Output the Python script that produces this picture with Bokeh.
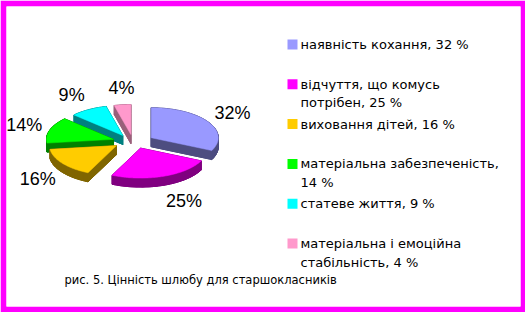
import numpy as np
from bokeh.plotting import figure
from bokeh.models import Range1d
from bokeh.core.properties import value
from bokeh.embed import file_html
from bokeh.resources import INLINE

# ---- data ----
categories = [
    "наявність кохання, 32 %",
    "відчуття, що комусь\nпотрібен, 25 %",
    "виховання дітей, 16 %",
    "матеріальна забезпеченість,\n14 %",
    "статеве життя, 9 %",
    "матеріальна і емоційна\nстабільність, 4 %",
]
shares = [32, 25, 16, 14, 9, 4]
pct_labels = ["32%", "25%", "16%", "14%", "9%", "4%"]
top_colors = ["#9999FF", "#FF00FF", "#FFCC00", "#00FF00", "#00FFFF", "#FF99CC"]
side_colors = ["#4D4D80", "#800080", "#806600", "#008000", "#008080", "#99607A"]
caption = "рис. 5. Цінність шлюбу для старшокласників"

FONT = "Liberation Sans"
LEG_FONT = "DejaVu Sans"

p = figure(width=525, height=312,
           x_range=Range1d(6, 520), y_range=Range1d(306, 6),
           x_axis_type=None, y_axis_type=None,
           output_backend="svg", toolbar_location=None,
           min_border_left=6, min_border_right=5,
           min_border_top=6, min_border_bottom=6,
           border_fill_color="#FF00FF", background_fill_color="white",
           outline_line_color=None)
p.grid.visible = False

# ---- pseudo-3D exploded pie ----
cx, cy = 133.0, 141.0
rx, ry = 67.0, 30.0
depth = 9.0
ex_r, ey_r = 21.0, 7.0

vals = np.array(shares, dtype=float)
ends = np.cumsum(vals) / vals.sum() * 360.0
starts = np.concatenate([[0.0], ends[:-1]])
mids = (starts + ends) / 2.0

slices = []
for i in range(len(vals)):
    a0, a1 = starts[i], ends[i]
    m = np.radians(mids[i])
    ox, oy = ex_r * np.sin(m), -ey_r * np.cos(m)
    ax, ay = cx + ox, cy + oy
    th = np.radians(np.linspace(a0, a1, max(int(a1 - a0), 2) + 1))
    tx = np.concatenate([[ax], ax + rx * np.sin(th)])
    ty = np.concatenate([[ay], ay - ry * np.cos(th)])
    slices.append((oy, i, tx, ty))

for oy, i, tx, ty in sorted(slices, key=lambda s: s[0]):
    xs, ys = [], []
    n = len(tx)
    xs.append(list(tx))
    ys.append(list(ty + depth))
    for k in range(n):
        k2 = (k + 1) % n
        xs.append([tx[k], tx[k2], tx[k2], tx[k]])
        ys.append([ty[k], ty[k2], ty[k2] + depth, ty[k] + depth])
    p.patches(xs, ys, fill_color=side_colors[i], line_color=side_colors[i], line_width=1)
    p.patch(list(tx), list(ty), fill_color=top_colors[i], line_color=top_colors[i], line_width=0.5)

# percentage labels
rxL, ryL = 96.0, 54.0
for i in range(len(vals)):
    m = np.radians(mids[i])
    s, c = np.sin(m), -np.cos(m)
    lx = cx + rxL * s
    ly = cy + ryL * c + depth * max(0.0, c)
    align = "left" if s > 0.2 else ("right" if s < -0.2 else "center")
    p.text(x=[lx], y=[ly], text=[pct_labels[i]], text_align=align,
           text_baseline="middle", text_font=value(FONT),
           text_font_size="18px", text_color="black")

# ---- legend ----
leg_y0, leg_dy, line_dy = 44.0, 39.8, 18.5
leg_y = [leg_y0 + leg_dy * i for i in range(len(categories))]
p.rect(x=[292] * len(categories), y=leg_y, width=10, height=10,
       fill_color=top_colors, line_color=None)
for i, lab in enumerate(categories):
    for j, line in enumerate(lab.split("\n")):
        p.text(x=[300], y=[leg_y[i] + j * line_dy], text=[line],
               text_align="left", text_baseline="middle",
               text_font=value(LEG_FONT), text_font_size="13px", text_color="black")

# caption
p.text(x=[64], y=[279], text=[caption], text_align="left", text_baseline="middle",
       text_font=value(LEG_FONT), text_font_size="11.5px", text_color="black")

open("out.html", "w").write(file_html(p, INLINE))
